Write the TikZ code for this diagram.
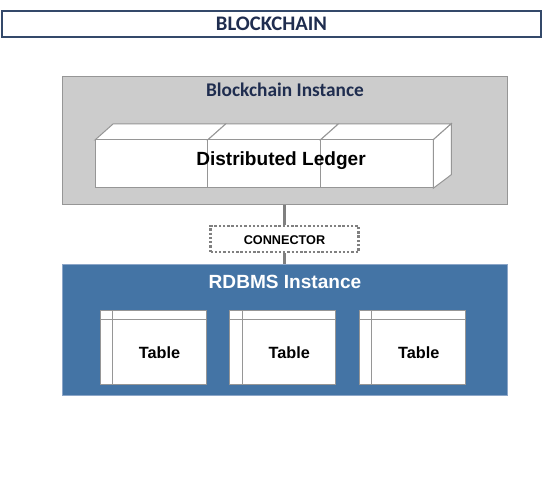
\documentclass[tikz,border=0pt]{standalone}
\usepackage{fontspec}
\setmainfont{Liberation Sans}
\newfontfamily\calfont{Carlito}
\usetikzlibrary{calc}

\definecolor{navytext}{RGB}{31,45,79}
\definecolor{titleline}{RGB}{52,73,106}
\definecolor{bcfill}{RGB}{204,204,204}
\definecolor{bcline}{RGB}{150,150,150}
\definecolor{dbfill}{RGB}{68,116,165}
\definecolor{dbline}{RGB}{140,166,200}
\definecolor{linkgray}{RGB}{128,128,128}

\tikzset{
  titlebox/.style={draw=titleline, line width=1.5pt, fill=white, minimum width=404.25pt, minimum height=19.5pt, inner sep=0pt},
  instbox/.style={line width=0.75pt, minimum width=333.75pt, inner sep=0pt},
  cube/.style={draw=bcline, fill=white, line width=0.75pt},
  tablebox/.style={draw=bcline, fill=white, line width=0.75pt, minimum width=79.5pt, minimum height=55.5pt, inner sep=0pt},
  connbox/.style={draw=linkgray, line width=2pt, dash pattern=on 1.8pt off 1.4pt, fill=white, minimum width=111pt, minimum height=19.5pt, inner sep=0pt},
  link/.style={draw=linkgray, line width=2.5pt}
}

\begin{document}
\begin{tikzpicture}[x=0.75pt,y=0.75pt,yscale=-1,xscale=1]
\useasboundingbox (0,0) rectangle (544,492);

% Title
\node[titlebox] (title) at (271.5,24.5) {};
\node[font=\calfont\bfseries\fontsize{15.5}{18}\selectfont, text=navytext] (titletext) at (271.5,23.5) {BLOCKCHAIN};

% Blockchain instance
\node[instbox, draw=bcline, fill=bcfill, minimum height=96pt] (bci) at (284.5,141) {};
\node[font=\calfont\bfseries\fontsize{14.5}{17}\selectfont, text=navytext] (bcilabel) at (285,90) {Blockchain Instance};

% Ledger block
\foreach \i in {0,1,2} {
  \draw[cube] (95+112.67*\i,140) -- ++(18,-16) -- ++(112.67,0) -- ++(-18,16) -- cycle;
  \draw[cube] (95+112.67*\i,140) rectangle ++(112.67,48);
}
\node[minimum width=253.5pt, minimum height=36pt, inner sep=0pt] (ledger) at (264,164) {};
\draw[cube] (ledger.north east) -- ++(18,-16) -- ++(0,51) -- (ledger.south east) -- cycle;
\node[font=\bfseries\fontsize{14.3}{17}\selectfont] (ledgertext) at (281,161) {Distributed Ledger};

% Connector
\node[connbox] (conn) at (284.5,239) {};
\node[font=\bfseries\fontsize{9.5}{11}\selectfont] (conntext) at (284.5,240) {CONNECTOR};

% RDBMS instance
\node[instbox, draw=dbline, fill=dbfill, minimum height=98.25pt] (rdb) at (284.5,330.5) {};
\node[font=\bfseries\fontsize{14.3}{17}\selectfont, text=white] (rdblabel) at (285,282) {RDBMS Instance};

% Tables
\foreach \i/\x in {1/153,2/282.7,3/412.3} {
  \node[tablebox] (tab\i) at (\x,348) {};
  \draw[bcline, line width=0.75pt] ($(tab\i.north west)+(0,9.5)$) -- ($(tab\i.north east)+(0,9.5)$);
  \draw[bcline, line width=0.75pt] ($(tab\i.north west)+(13,0)$) -- ($(tab\i.south west)+(13,0)$);
  \node[font=\bfseries\fontsize{12.2}{14}\selectfont] (tabtext\i) at ($(tab\i.center)+(6.5,5)$) {Table};
}

% Links
\draw[link] (bci.south) -- (conn.north);
\draw[link] (conn.south) -- (rdb.north);

\end{tikzpicture}
\end{document}
